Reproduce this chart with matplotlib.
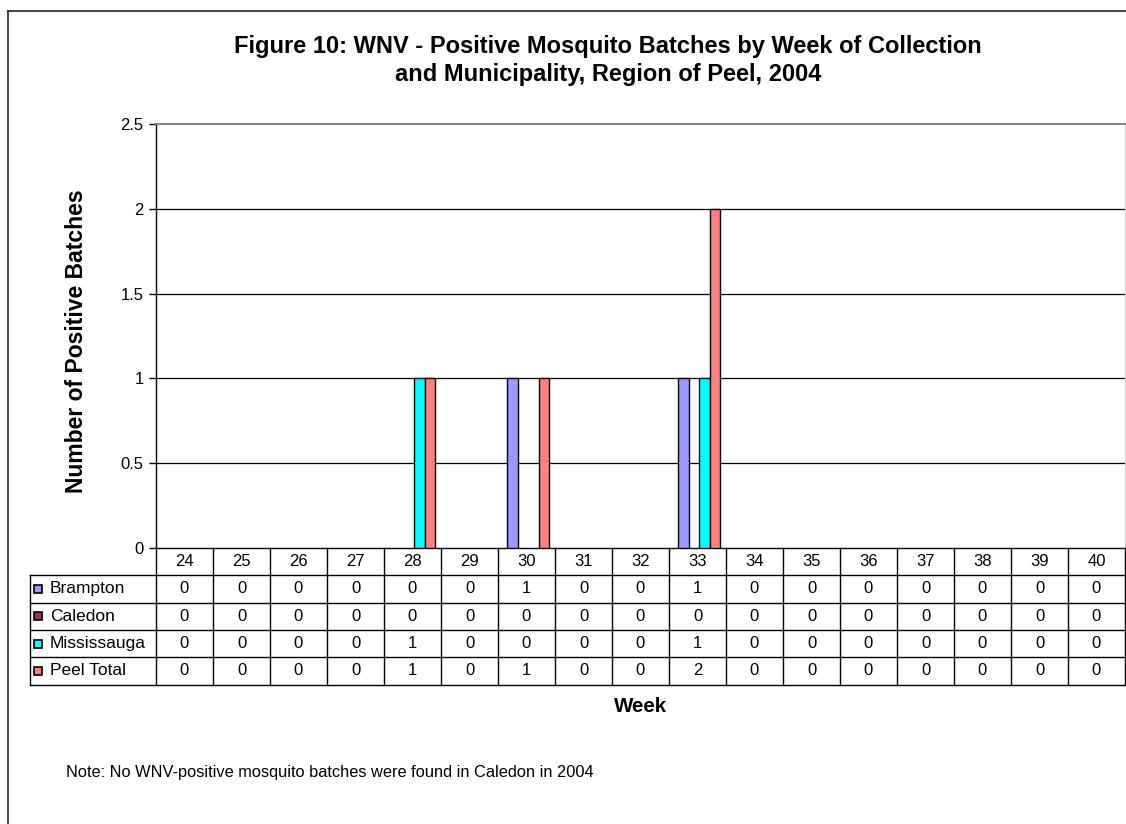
import matplotlib
matplotlib.use("Agg")
import matplotlib.pyplot as plt
from matplotlib.lines import Line2D
from matplotlib.patches import Rectangle
import numpy as np

weeks = [24, 25, 26, 27, 28, 29, 30, 31, 32, 33, 34, 35, 36, 37, 38, 39, 40]
series_names = ["Brampton", "Caledon", "Mississauga", "Peel Total"]
brampton = [0, 0, 0, 0, 0, 0, 1, 0, 0, 1, 0, 0, 0, 0, 0, 0, 0]
caledon = [0, 0, 0, 0, 0, 0, 0, 0, 0, 0, 0, 0, 0, 0, 0, 0, 0]
mississauga = [0, 0, 0, 0, 1, 0, 0, 0, 0, 1, 0, 0, 0, 0, 0, 0, 0]
peel_total = [0, 0, 0, 0, 1, 0, 1, 0, 0, 2, 0, 0, 0, 0, 0, 0, 0]
colors = ["#9999FF", "#993366", "#00FFFF", "#FF8080"]

plt.rcParams['font.family'] = ['Liberation Sans', 'DejaVu Sans']

W, H = 1126, 824
fig = plt.figure(figsize=(W / 100, H / 100), dpi=100)
L, R, T, B = 156, 1125, 124, 548
ax = fig.add_axes([L / W, 1 - B / H, (R - L) / W, (B - T) / H])

SMALL = 12
data = [brampton, caledon, mississauga, peel_total]
x = np.arange(len(weeks))
bw = 0.185
for i, (vals, c) in enumerate(zip(data, colors)):
    v = np.array(vals, dtype=float)
    mask = v > 0
    ax.bar(x[mask] + (i - 1.5) * bw + 0.03, v[mask], width=bw, color=c,
           edgecolor="black", linewidth=1.0, zorder=3)

ax.set_xlim(-0.5, len(weeks) - 0.5)
ax.set_ylim(0, 2.5)
ax.set_yticks([0, 0.5, 1, 1.5, 2, 2.5])
ax.set_yticklabels(["0", "0.5", "1", "1.5", "2", "2.5"], fontsize=SMALL)
ax.set_xticks([])
ax.tick_params(axis='y', direction='out', length=5, width=1, pad=4, colors='black')
for yv in [0.5, 1, 1.5, 2]:
    ax.axhline(yv, color="black", linewidth=0.9, zorder=1)
ax.spines['top'].set_color('#888888')
ax.spines['top'].set_linewidth(1.5)
ax.spines['right'].set_color('#cccccc')
ax.spines['left'].set_color('black')
ax.spines['bottom'].set_color('black')
ax.spines['left'].set_linewidth(1.0)
ax.spines['bottom'].set_linewidth(1.0)

# Data table
ph = B - T
rh = 27.3 / ph
tr = ax.get_xaxis_transform()
lab_left = -0.5 - (L - 30) / ((R - L) / len(weeks))
xr = len(weeks) - 0.5
kw = dict(transform=tr, clip_on=False, color="black", linewidth=1.0)
for k in range(len(weeks) + 1):
    xv = k - 0.5
    ax.add_line(Line2D([xv, xv], [0, -5 * rh], **kw))
for j in range(1, 6):
    ax.add_line(Line2D([lab_left, xr], [-j * rh, -j * rh], **kw))
ax.add_line(Line2D([lab_left, lab_left], [-rh, -5 * rh], **kw))
for k, wk in enumerate(weeks):
    ax.text(k, -0.5 * rh, str(wk), transform=tr, ha="center", va="center", fontsize=SMALL)
    for j, vals in enumerate(data):
        ax.text(k, -(j + 1.5) * rh, str(vals[k]), transform=tr, ha="center",
                va="center", fontsize=SMALL)
unit = (R - L) / len(weeks)
for j, (name, c) in enumerate(zip(series_names, colors)):
    yc = -(j + 1.5) * rh
    sq_w = 8 / unit
    sq_h = 8 / ph
    ax.add_patch(Rectangle((lab_left + 4 / unit, yc - sq_h / 2), sq_w, sq_h,
                           facecolor=c, edgecolor="black", linewidth=1.2,
                           transform=tr, clip_on=False))
    ax.text(lab_left + 20 / unit, yc, name, transform=tr, ha="left", va="center",
            fontsize=12.5)

# Titles and labels
fig.text(608 / W, 1 - 46 / H, "Figure 10: WNV - Positive Mosquito Batches by Week of Collection",
         ha="center", va="center", fontsize=17, fontweight="bold")
fig.text(608 / W, 1 - 75 / H, "and Municipality, Region of Peel, 2004",
         ha="center", va="center", fontsize=17, fontweight="bold")
fig.text(77 / W, 1 - 341 / H, "Number of Positive Batches", rotation=90,
         ha="center", va="center", fontsize=16.5, fontweight="bold")
fig.text(641 / W, 1 - 707 / H, "Week", ha="center", va="center", fontsize=14.8,
         fontweight="bold")
fig.text(66 / W, 1 - 773 / H, "Note: No WNV-positive mosquito batches were found in Caledon in 2004",
         ha="left", va="center", fontsize=11.8)

# Outer chart frame
fig.add_artist(Line2D([8 / W, 8 / W], [0, 1 - 11 / H], transform=fig.transFigure,
                      color="#222222", linewidth=1.2))
fig.add_artist(Line2D([8 / W, 1], [1 - 11 / H, 1 - 11 / H], transform=fig.transFigure,
                      color="#222222", linewidth=1.2))

fig.savefig("out.png", dpi=100)
